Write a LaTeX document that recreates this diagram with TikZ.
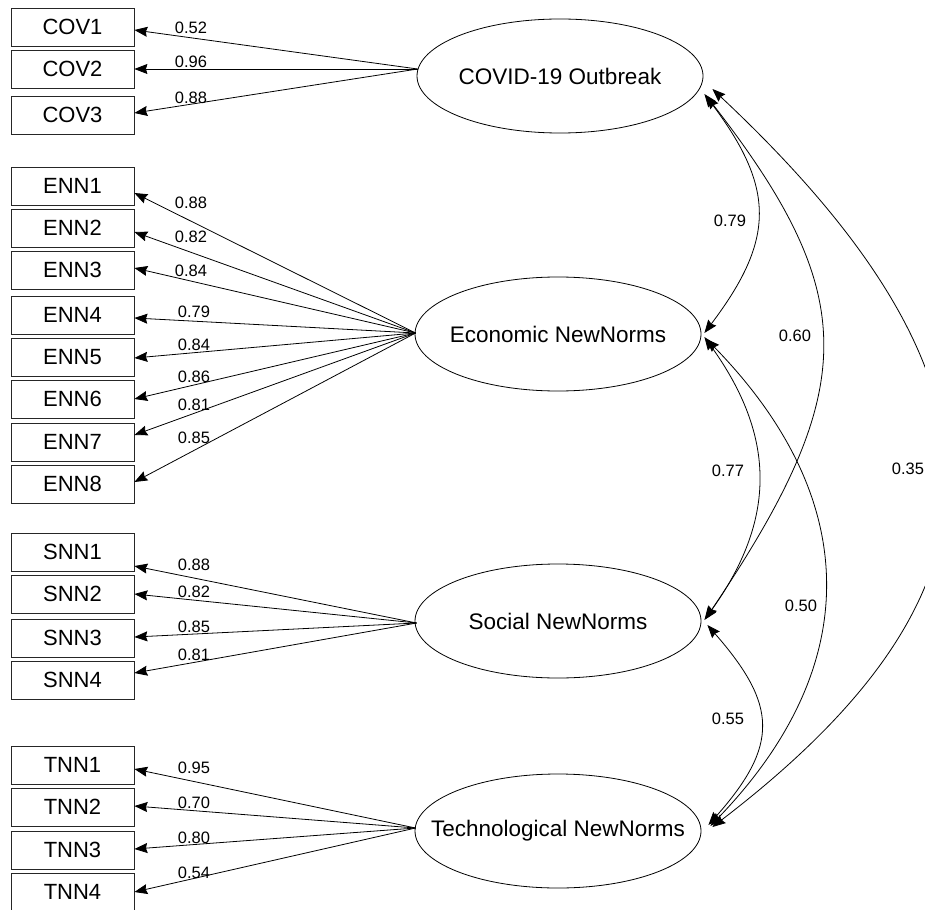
\documentclass[tikz,border=0pt]{standalone}
\usepackage{fontspec}
\setmainfont{Liberation Sans}
\usetikzlibrary{arrows.meta,calc,shapes.geometric}

\begin{document}
\begin{tikzpicture}[x=1pt,y=-1pt,
  indicator/.style={draw=black!85, line width=0.8pt, minimum width=123pt,
    minimum height=38pt, inner sep=0pt, font=\fontsize{22}{24}\selectfont},
  latent/.style={draw, ellipse, line width=0.8pt, minimum width=286pt,
    minimum height=114pt, inner sep=0pt},
  latentname/.style={inner sep=0pt, font=\fontsize{22.5}{25}\selectfont},
  tip/.tip={Stealth[length=13pt,width=10pt,inset=1.5pt]},
  loading/.style={-tip, line width=0.8pt},
  corr/.style={tip-tip, line width=0.8pt},
  coef/.style={inner sep=0pt, font=\fontsize{16.5}{18}\selectfont}
]
\useasboundingbox (0,0) rectangle (925,909);

% latent factors (outline and name drawn separately so the outline keeps its size)
\node[latent] (cov) at (560,76)  {};
\node[latent] (enn) at (558,334) {};
\node[latent] (snn) at (558,621) {};
\node[latent] (tnn) at (558,831) {};
\node[latentname] (covname) at (cov.center) {COVID-19 Outbreak};
\node[latentname] (ennname) at (enn.center) {Economic NewNorms};
\node[latentname] (snnname) at (snn.center) {Social NewNorms};
\node[latentname] (tnnname) at (tnn.center) {Technological NewNorms};

% common origins of the loading paths
\coordinate (covsrc) at ($(cov.west)+(1,-7)$);
\coordinate (ennsrc) at ($(enn.west)+(1,-1)$);
\coordinate (snnsrc) at ($(snn.west)+(2,2)$);
\coordinate (tnnsrc) at ($(tnn.west)+(1,-3)$);

% indicators: name / centre y / tip offset / loading / label y / label x
\foreach \nm/\cy/\dy/\val/\ly/\lx in {
  COV1/27/3/0.52/28/191, COV2/69/0/0.96/62/191, COV3/115/-2/0.88/98/191}{
  \node[indicator] (\nm) at (72.5,\cy) {\nm};
  \draw[loading] (covsrc) -- ($(\nm.east)+(0,\dy)$);
  \node[coef] (c\nm) at (\lx,\ly) {\val};
}
\foreach \nm/\cy/\dy/\val/\ly/\lx in {
  ENN1/186/7/0.88/203/191, ENN2/228/4/0.82/237/191, ENN3/270/-2/0.84/271/191,
  ENN4/315/3/0.79/312/194, ENN5/357/1/0.84/345/194, ENN6/399/0/0.86/377/194,
  ENN7/442/-7/0.81/405/194, ENN8/484/-2/0.85/438/194}{
  \node[indicator] (\nm) at (72.5,\cy) {\nm};
  \draw[loading] (ennsrc) -- ($(\nm.east)+(0,\dy)$);
  \node[coef] (c\nm) at (\lx,\ly) {\val};
}
\foreach \nm/\cy/\dy/\val/\ly/\lx in {
  SNN1/552/14/0.88/565/194, SNN2/594/0/0.82/592/194,
  SNN3/638/-1/0.85/627/194, SNN4/680/-7/0.81/655/194}{
  \node[indicator] (\nm) at (72.5,\cy) {\nm};
  \draw[loading] (snnsrc) -- ($(\nm.east)+(0,\dy)$);
  \node[coef] (c\nm) at (\lx,\ly) {\val};
}
\foreach \nm/\cy/\dy/\val/\ly/\lx in {
  TNN1/765/4/0.95/768/194, TNN2/807/-1/0.70/803/194,
  TNN3/850/-1/0.80/838/194, TNN4/892/0/0.54/873/194}{
  \node[indicator] (\nm) at (72.5,\cy) {\nm};
  \draw[loading] (tnnsrc) -- ($(\nm.east)+(0,\dy)$);
  \node[coef] (c\nm) at (\lx,\ly) {\val};
}

% attachment points of the correlation arcs
\coordinate (covA) at ($(cov.east)+(1,18)$);
\coordinate (covB) at ($(cov.east)+(3,20)$);
\coordinate (covC) at ($(cov.east)+(9,13)$);
\coordinate (ennA) at ($(enn.east)+(3,-1)$);
\coordinate (ennB) at ($(enn.east)+(3,3)$);
\coordinate (ennC) at ($(enn.east)+(5,5)$);
\coordinate (snnA) at ($(snn.east)+(4,-2)$);
\coordinate (snnB) at ($(snn.east)+(3,-1)$);
\coordinate (snnC) at ($(snn.east)+(6,4)$);
\coordinate (tnnA) at ($(tnn.east)+(11,-4)$);
\coordinate (tnnB) at ($(tnn.east)+(9,-5)$);
\coordinate (tnnC) at ($(tnn.east)+(7,-6)$);

% correlation arcs
\draw[corr] (covA) .. controls +(71,94) and +(71,-94) .. (ennA);
\draw[corr] (covB) .. controls +(155,200) and +(155,-230) .. (snnA);
\draw[corr] (covC) .. controls +(320,300) and +(300,-230) .. (tnnA);
\draw[corr] (ennB) .. controls +(72,100) and +(72,-100) .. (snnB);
\draw[corr] (ennC) .. controls +(156,160) and +(154,-160) .. (tnnB);
\draw[corr] (snnC) .. controls +(70,80) and +(71,-80) .. (tnnC);

% correlation values
\node[coef] (rCE) at (730,221) {0.79};
\node[coef] (rCS) at (795,336) {0.60};
\node[coef] (rES) at (728,471) {0.77};
\node[coef] (rCT) at (908,469) {0.35};
\node[coef] (rET) at (801,606) {0.50};
\node[coef] (rST) at (728,719) {0.55};
\end{tikzpicture}
\end{document}
